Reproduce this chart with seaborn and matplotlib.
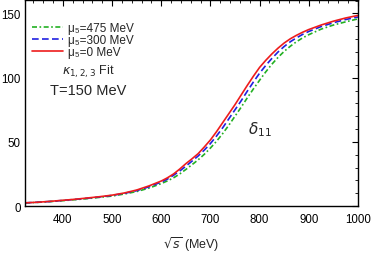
import matplotlib
matplotlib.use("Agg")
import matplotlib.pyplot as plt
import seaborn as sns
import pandas as pd
from matplotlib.ticker import MultipleLocator

energy = [323, 350, 375, 400, 425, 450, 475, 500, 525, 550, 575, 600, 612.5,
          625, 637.5, 650, 662.5, 675, 687.5, 700, 712.5, 725, 737.5, 750,
          762.5, 775, 787.5, 800, 812.5, 825, 837.5, 850, 862.5, 875, 887.5,
          900, 925, 950, 975, 1000]
delta_mu0 = [2.5, 3.0, 3.7, 4.5, 5.3, 6.3, 7.3, 8.5, 10.2, 12.5, 15.7, 19.5,
             22.0, 25.0, 28.8, 33.0, 36.8, 40.8, 46.0, 51.5, 58.0, 65.0,
             72.0, 79.0, 86.5, 94.0, 101.2, 108.0, 113.5, 118.5, 123.0,
             127.0, 130.3, 133.0, 135.4, 137.5, 141.0, 144.0, 146.5, 148.5]
delta_mu300 = [2.5, 3.0, 3.6, 4.4, 5.2, 6.1, 7.1, 8.3, 9.9, 12.0, 15.0, 18.7,
               21.0, 24.0, 27.3, 31.0, 35.0, 39.0, 43.6, 48.7, 54.6, 61.0,
               68.0, 75.0, 82.0, 89.5, 96.7, 103.5, 109.5, 115.0, 120.0,
               124.3, 128.0, 131.0, 133.7, 136.0, 139.8, 142.8, 145.3, 147.3]
delta_mu475 = [2.4, 2.9, 3.5, 4.2, 5.0, 5.8, 6.8, 7.8, 9.4, 11.3, 14.0, 17.5,
               19.6, 22.0, 25.0, 28.5, 32.2, 36.0, 40.3, 45.2, 50.5, 56.5,
               63.0, 70.0, 77.0, 84.3, 91.3, 98.0, 104.5, 110.5, 115.8,
               120.5, 124.5, 128.0, 131.0, 133.5, 137.8, 141.0, 143.5, 145.8]
labels = ["μ₅=475 MeV", "μ₅=300 MeV", "μ₅=0 MeV"]

sns.set_theme(style="white")
plt.rcParams["font.family"] = ["Liberation Sans", "DejaVu Sans"]
plt.rcParams["mathtext.fontset"] = "dejavusans"

fig = plt.figure(figsize=(3.74, 2.55), dpi=100)
ax = fig.add_axes([0.067, 0.188, 0.890, 0.808])

series = [(delta_mu475, "#22b022", (0, (3, 1.5, 1, 1.5))),
          (delta_mu300, "#2020e0", (0, (4, 2))),
          (delta_mu0, "#ee1c1c", "-")]
for (vals, col, ls), lab in zip(series, labels):
    df = pd.DataFrame({"E": energy, "d": vals})
    sns.lineplot(data=df, x="E", y="d", ax=ax, color=col, linestyle=ls,
                 linewidth=1.2, label=lab)

ax.set_xlim(323, 1000)
ax.set_ylim(0, 160.5)
ax.xaxis.set_major_locator(MultipleLocator(100))
ax.xaxis.set_minor_locator(MultipleLocator(20))
ax.yaxis.set_major_locator(MultipleLocator(50))
ax.yaxis.set_minor_locator(MultipleLocator(10))
ax.tick_params(which="both", direction="in", top=True, right=True,
               labelsize=8.3, colors="black")
ax.tick_params(axis="x", pad=5)
ax.tick_params(axis="y", pad=3)
ax.tick_params(which="major", length=4, width=0.8)
ax.tick_params(which="minor", length=2, width=0.6)
for s in ax.spines.values():
    s.set_color("black")
    s.set_linewidth(1.0)

ax.set_xlabel(r"$\sqrt{s}$ (MeV)", fontsize=9, labelpad=7)
ax.set_ylabel("")

leg = ax.legend(loc="upper left", bbox_to_anchor=(0.015, 0.905), frameon=False,
                fontsize=8.5, handlelength=2.6, handletextpad=0.45,
                labelspacing=0.0, borderaxespad=0.0, borderpad=0.2)

ax.text(0.11, 0.655, r"$\kappa_{1,2,3}$ Fit", transform=ax.transAxes,
        fontsize=9, ha="left", va="center")
ax.text(0.075, 0.565, "T=150 MeV", transform=ax.transAxes,
        fontsize=10.5, ha="left", va="center")
ax.text(0.67, 0.375, r"$\delta_{11}$", transform=ax.transAxes,
        fontsize=11, ha="left", va="center")

fig.savefig("out.png", dpi=100)
